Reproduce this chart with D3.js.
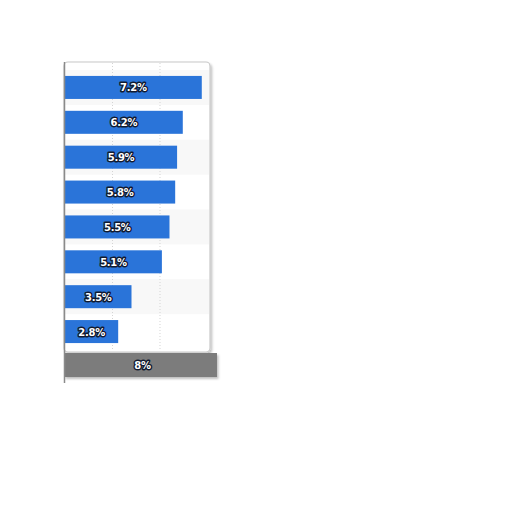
<!DOCTYPE html>
<html>
<head>
<meta charset="utf-8">
<script src="https://cdn.jsdelivr.net/npm/d3@7"></script>
<style>
  body { margin: 0; background: #fff; }
  svg { display: block; }
</style>
</head>
<body>
<svg id="svg"></svg>
<script>
// values, top to bottom
const rows = [0, 1, 2, 3, 4, 5, 6, 7];
const values = [7.2, 6.2, 5.9, 5.8, 5.5, 5.1, 3.5, 2.8];
const totalValue = 8;
const gridTicks = [2.5, 5];

const width = 512;
const height = 512;

let svg = d3.select("#svg")
    .attr("width", width)
    .attr("height", height);

const defs = svg.append("defs");
let shadow = defs.append("filter").attr("id", "shadow")
    .attr("x", "-5%").attr("y", "-20%").attr("width", "115%").attr("height", "160%");
shadow.append("feDropShadow")
    .attr("dx", 1.5).attr("dy", 2).attr("stdDeviation", 1.2)
    .attr("flood-color", "#000").attr("flood-opacity", 0.25);

const xScale = d3.scaleLinear()
    .domain([0, 7.58])
    .range([65, 209]);

const yScale = d3.scaleBand()
    .domain(rows)
    .range([70, 349])
    .paddingInner(0.34)
    .paddingOuter(0.17);

const panelTop = 62, panelBottom = 352;

// panel with faint shadow
svg.append("rect")
    .attr("x", 64).attr("y", panelTop)
    .attr("width", 146).attr("height", panelBottom - panelTop)
    .attr("rx", 4)
    .attr("fill", "#fff")
    .attr("stroke", "#c8c8c8")
    .attr("stroke-width", 1.2)
    .attr("filter", "url(#shadow)");

// alternating stripes
svg.selectAll(".stripe")
    .data(rows.filter(d => d % 2 == 0))
    .enter().append("rect")
    .attr("class", "stripe")
    .attr("x", 65)
    .attr("y", d => yScale(d) - yScale.step() * yScale.paddingInner() / 2)
    .attr("width", 144)
    .attr("height", yScale.step())
    .attr("fill", "#f8f8f8");

// vertical grid lines
svg.selectAll(".grid")
    .data(gridTicks)
    .enter().append("line")
    .attr("class", "grid")
    .attr("x1", d => xScale(d)).attr("x2", d => xScale(d))
    .attr("y1", panelTop + 1).attr("y2", panelBottom - 1)
    .attr("stroke", "#d4d4d4")
    .attr("stroke-dasharray", "1,2");

// bars
svg.selectAll(".bar")
    .data(values)
    .enter().append("rect")
    .attr("class", "bar")
    .attr("x", xScale(0))
    .attr("y", (d, i) => yScale(rows[i]))
    .attr("width", d => xScale(d) - xScale(0))
    .attr("height", yScale.bandwidth())
    .attr("fill", "#2a74d9");

function outlinedLabel(sel) {
    sel.attr("text-anchor", "middle")
        .attr("dominant-baseline", "central")
        .style("font-family", "'DejaVu Sans', Verdana, sans-serif")
        .style("font-size", "10px")
        .style("font-weight", "bold")
        .style("letter-spacing", "-0.3px")
        .style("fill", "#fff")
        .style("stroke", "#111a30")
        .style("stroke-width", "2.8px")
        .style("paint-order", "stroke")
        .style("stroke-linejoin", "round");
}

svg.selectAll(".label")
    .data(values)
    .enter().append("text")
    .attr("class", "label")
    .attr("x", d => (xScale(0) + xScale(d)) / 2)
    .attr("y", (d, i) => yScale(rows[i]) + yScale.bandwidth() / 2 + 0.5)
    .text(d => d + "%")
    .call(outlinedLabel);

// total bar underneath the panel
svg.append("rect")
    .attr("x", 64).attr("y", 353)
    .attr("width", xScale(totalValue) - 64)
    .attr("height", 24)
    .attr("fill", "#7b7b7b")
    .attr("filter", "url(#shadow)");

svg.append("text")
    .attr("x", (64 + xScale(totalValue)) / 2 + 2)
    .attr("y", 365.5)
    .text(totalValue + "%")
    .call(outlinedLabel);

// left axis line
svg.append("line")
    .attr("x1", 64.5).attr("x2", 64.5)
    .attr("y1", panelTop).attr("y2", 383)
    .attr("stroke", "#8a8a8a")
    .attr("stroke-width", 1.5);
</script>
</body>
</html>
